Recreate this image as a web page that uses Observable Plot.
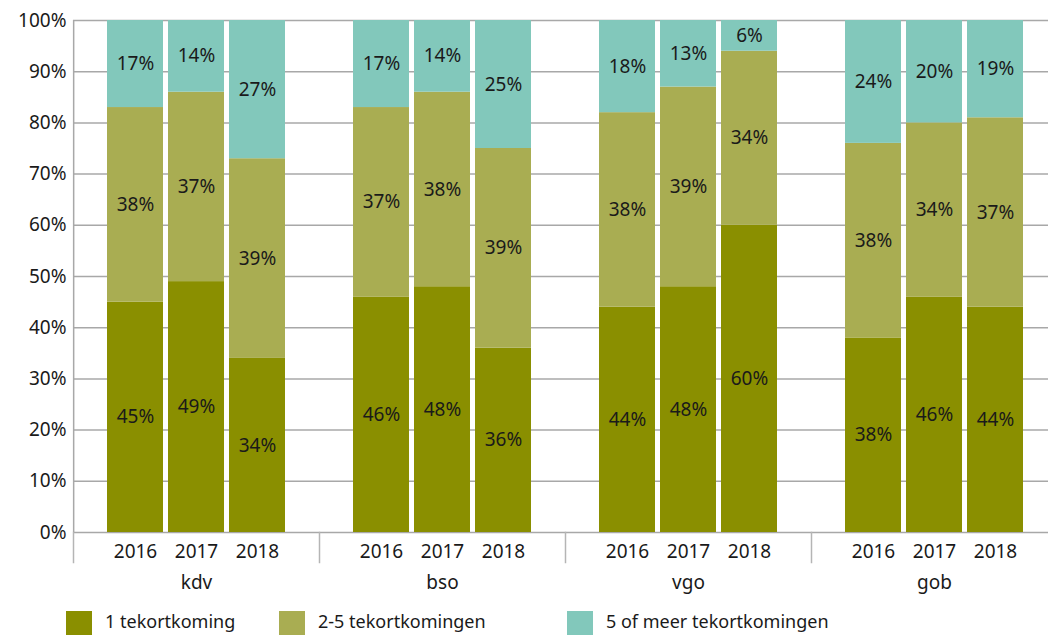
<!DOCTYPE html>
<html><head><meta charset="utf-8">
<script src="https://cdn.jsdelivr.net/npm/d3@7"></script>
<script src="https://cdn.jsdelivr.net/npm/@observablehq/plot@0.6"></script>
<style>
body{margin:0;background:#fff;font-family:"Noto Sans",sans-serif;}
#wrap{position:relative;width:1048px;height:635px;overflow:hidden;}
#chart svg{max-width:none !important;}
#legend{position:absolute;left:0;top:611px;height:24px;width:1048px;font-size:18px;color:#1a1a1a;}
.item{position:absolute;top:0;display:flex;align-items:flex-start;height:24px;white-space:nowrap;}
.sw{width:26px;height:24px;margin-right:13px;flex:none;}
.item span{line-height:18px;margin-top:1px;}
</style></head><body>
<div id="wrap"><div id="chart"></div><div id="legend"></div></div>
<script>
const groups = ["kdv","bso","vgo","gob"];
const years = ["2016","2017","2018"];
const categories = ["1 tekortkoming","2-5 tekortkomingen","5 of meer tekortkomingen"];
const colors = ["#8a8f00","#a9ad52","#82c8bb"];
// values per group (kdv, bso, vgo, gob) x year (2016, 2017, 2018)
const oneDeficiency = [45,49,34, 46,48,36, 44,48,60, 38,46,44];
const twoToFive     = [38,37,39, 37,38,39, 38,39,34, 38,34,37];
const fiveOrMore    = [17,14,27, 17,14,25, 18,13,6, 24,20,19];
const yTicks = [0,10,20,30,40,50,60,70,80,90,100];
const legendLefts = [66,279,567];

const series = [oneDeficiency, twoToFive, fiveOrMore];
const data = [];
groups.forEach((g, gi) => years.forEach((yr, yi) => series.forEach((s, ci) => {
  data.push({group: g, year: yr, cat: categories[ci], value: s[gi*3+yi]});
})));

const W = 1058, H = 600, ML = 71, MT = 20, MB = 68;
const padIn = 0.09, padOut = 0.55;
const facetW = (W - ML) / groups.length;
const step = facetW / (years.length - padIn + 2*padOut);
const centerOffset = step*padOut + step*(1-padIn)/2;
const firstFacet = [{group: groups[0], year: years[0]}];
const FS = 19;

const chart = Plot.plot({
  width: W, height: H, marginLeft: ML, marginRight: 0, marginTop: MT, marginBottom: MB,
  style: {fontFamily: "'Noto Sans', sans-serif", fontSize: FS + "px", color: "#1a1a1a", background: "#fff", overflow: "visible", maxWidth: "none"},
  fx: {domain: groups, padding: 0},
  x: {domain: years, paddingInner: padIn, paddingOuter: padOut},
  y: {domain: [d3.min(yTicks), d3.max(yTicks)]},
  color: {domain: categories, range: colors},
  marks: [
    Plot.gridY(yTicks, {stroke: "#a8a8a8", strokeOpacity: 1, strokeWidth: 1.5}),
    Plot.frame({anchor: "left", insetTop: H - MT - MB, insetBottom: -30, stroke: "#b5b5b5", strokeWidth: 1.5}),
    Plot.ruleX(firstFacet, {fx: "group", x: "year", y1: d3.min(yTicks), y2: d3.max(yTicks), dx: -centerOffset, stroke: "#a8a8a8", strokeWidth: 1.5}),
    Plot.barY(data, {fx: "group", x: "year", y: "value", fill: "cat", order: categories}),
    Plot.text(data, Plot.stackY({fx: "group", x: "year", y: "value", z: "cat", order: categories, text: d => d.value + "%", fontSize: FS, fill: "#1a1a1a"})),
    Plot.axisY(yTicks, {tickSize: 0, tickPadding: 7, tickFormat: d => d + "%", fontSize: FS, label: null}),
    Plot.axisX({tickSize: 0, tickPadding: 12, fontSize: FS, label: null}),
    Plot.axisFx({anchor: "bottom", tickSize: 0, tickPadding: 43, fontSize: FS, label: null})
  ]
});
document.getElementById("chart").appendChild(chart);

const legend = document.getElementById("legend");
categories.forEach((c, i) => {
  const it = document.createElement("div");
  it.className = "item";
  it.style.left = legendLefts[i] + "px";
  it.innerHTML = `<div class="sw" style="background:${colors[i]}"></div><span>${c}</span>`;
  legend.appendChild(it);
});
</script>
</body></html>
